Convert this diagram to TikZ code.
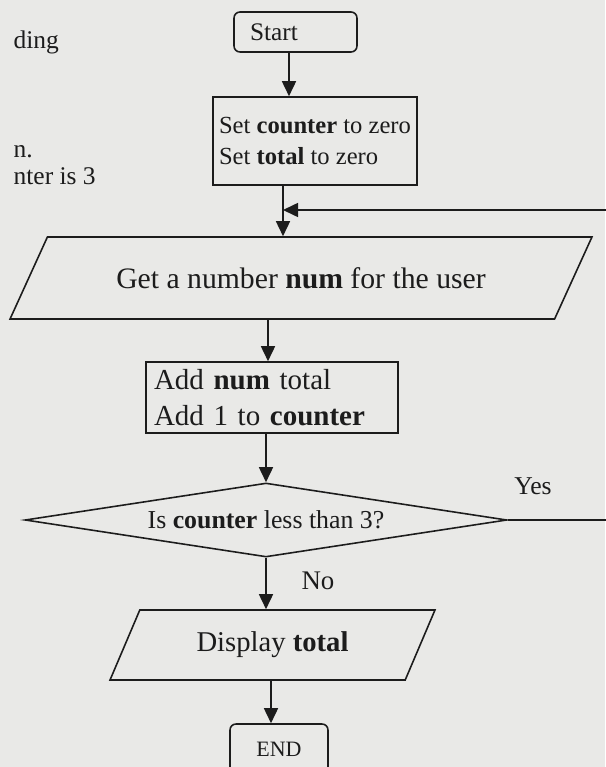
\documentclass[tikz,border=0pt]{standalone}
\usepackage{fontspec}
\setmainfont{Liberation Serif}
\usetikzlibrary{shapes.geometric,arrows.meta}

\definecolor{paper}{RGB}{233,233,231}
\definecolor{ink}{RGB}{28,28,28}

\begin{document}
\begin{tikzpicture}[x=0.02cm, y=-0.02cm, line width=0.9pt, color=ink,
    arr/.style={-{Triangle[length=3mm,width=2.8mm]}},
    termbox/.style={draw, rounded corners=1.2mm, inner sep=0pt},
    procbox/.style={draw, align=left, inner sep=0pt},
    iobox/.style={draw, trapezium, trapezium stretches body, inner sep=0pt},
    decbox/.style={draw, diamond, shape aspect=6.5, inner sep=0pt},
    pagetext/.style={anchor=base west, font=\fontsize{14.5}{17}\selectfont}]

  \useasboundingbox (0,0) rectangle (605,767);
  \fill[paper] (0,0) rectangle (605,767);

  \node[pagetext] (frag1) at (7,49) {ding};
  \node[pagetext] (frag2) at (7,157) {n.};
  \node[pagetext] (frag3) at (7,184) {nter is 3};


  \node[termbox, text width=1.82cm, inner xsep=0.32cm, minimum height=0.8cm, align=left,
        font=\fontsize{14.4}{17}\selectfont] (start) at (295.5,32) {Start};

  \node[procbox, minimum width=4.08cm, minimum height=1.76cm,
        font=\fontsize{14}{17.6}\selectfont] (setbox) at (315,141)
        {Set \textbf{counter} to zero\\ Set \textbf{total} to zero};

  \node[iobox, trapezium left angle=29.66, trapezium right angle=150.34,
        minimum width=11.64cm, minimum height=1.64cm,
        font=\fontsize{16.9}{20}\selectfont] (get) at (301,278)
        {Get a number \textbf{num} for the user};

  \node[procbox, text width=4.72cm, inner xsep=0.16cm, minimum height=1.42cm,
        font=\fontsize{16.5}{20.5}\selectfont] (addbox) at (272,397.5)
        {Add \textbf{num} total\\ Add 1 to \textbf{counter}};

  \node[decbox, minimum width=9.64cm, minimum height=1.48cm,
        font=\fontsize{14.7}{17}\selectfont] (test) at (266,520)
        {Is \textbf{counter} less than 3?};

  \node[iobox, trapezium left angle=41.2, trapezium right angle=138.8,
        minimum width=6.5cm, minimum height=1.4cm,
        font=\fontsize{16.3}{19}\selectfont] (show) at (272.5,645)
        {Display \textbf{total}\hspace{0.86cm}};

  \node[termbox, minimum width=1.96cm, minimum height=1cm,
        font=\fontsize{12.5}{15}\selectfont] (finish) at (279,749) {END};


  \node[font=\fontsize{14.6}{17}\selectfont] (yes) at (533,486) {Yes};
  \node[font=\fontsize{15.3}{18}\selectfont] (no) at (318,581) {No};


  \draw[arr] (start.south -| 289,0) -- (setbox.north -| 289,0);

  \draw[arr] (setbox.south -| 283,0) -- (get.north -| 283,0);

  \coordinate (join) at (283,210);
  \draw[arr] (test.east) -- (615,0 |- test.east) |- (join);

  \draw[arr] (get.south -| 268,0) -- (addbox.north -| 268,0);

  \draw[arr] (addbox.south -| test.north) -- (test.north);

  \draw[arr] (test.south) -- (test.south |- show.north);

  \draw[arr] (show.south -| 271,0) -- (finish.north -| 271,0);

\end{tikzpicture}
\end{document}
